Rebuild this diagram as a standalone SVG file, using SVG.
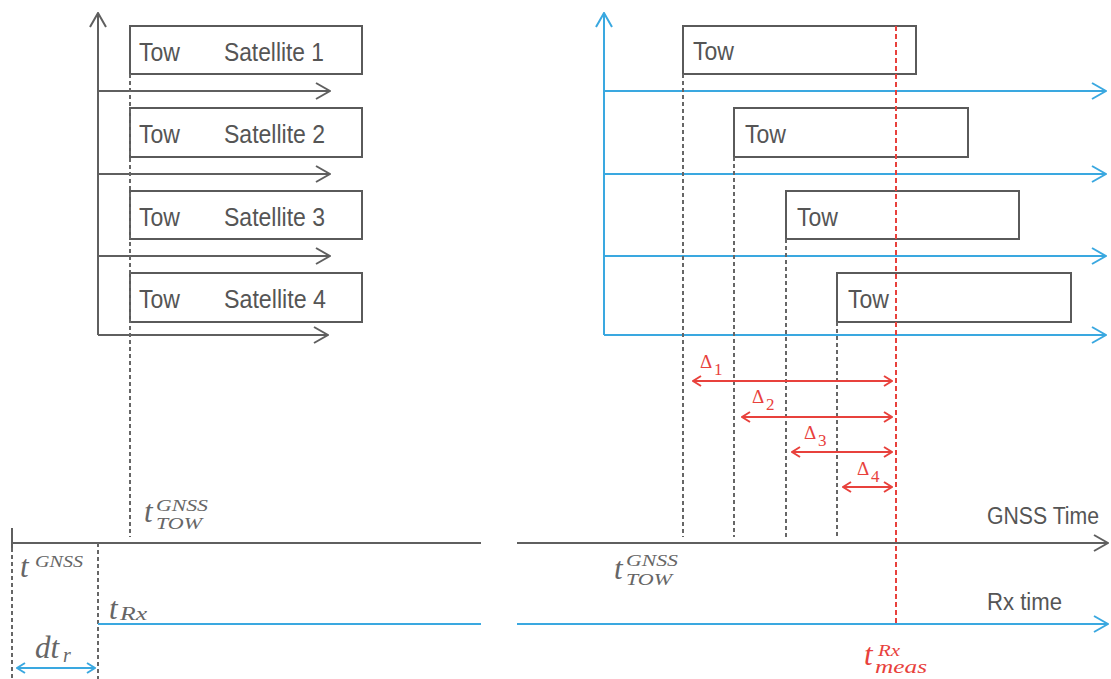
<svg xmlns="http://www.w3.org/2000/svg" width="1111" height="679" viewBox="0 0 1111 679">
<style>
.bg{fill:#fff}
.box{fill:#fff;stroke:#5a5a5a;stroke-width:2}
.g{stroke:#5f5f5f;stroke-width:2;fill:none}
.b{stroke:#3aa8e0;stroke-width:2;fill:none}
.r{stroke:#e8413c;stroke-width:2;fill:none}
.gd{stroke:#666;stroke-width:2;fill:none;stroke-dasharray:4 3}
.rd{stroke:#e8413c;stroke-width:2;fill:none;stroke-dasharray:5 3}
.lbl{font-family:"Liberation Sans",Arial,sans-serif;font-size:26px;fill:#555}
.lbl2{font-family:"Liberation Sans",Arial,sans-serif;font-size:23px;fill:#555}
.m{font-family:"Liberation Serif","DejaVu Serif",serif;font-style:italic;fill:#666}
.mr{font-family:"Liberation Serif","DejaVu Serif",serif;font-style:italic;fill:#e8413c}
.dl{font-family:"Liberation Serif","DejaVu Serif",serif;fill:#e8413c}
</style>
<defs>
<marker id="ag" markerUnits="userSpaceOnUse" viewBox="0 0 16 18" refX="15" refY="9" markerWidth="16" markerHeight="18" orient="auto-start-reverse"><path d="M1,1 L15,9 L1,17" fill="none" stroke="#5f5f5f" stroke-width="2"/></marker>
<marker id="ab" markerUnits="userSpaceOnUse" viewBox="0 0 16 18" refX="15" refY="9" markerWidth="16" markerHeight="18" orient="auto-start-reverse"><path d="M1,1 L15,9 L1,17" fill="none" stroke="#3aa8e0" stroke-width="2"/></marker>
<marker id="abs" markerUnits="userSpaceOnUse" viewBox="0 0 10 12" refX="9" refY="6" markerWidth="10" markerHeight="12" orient="auto-start-reverse"><path d="M1,1 L9,6 L1,11" fill="none" stroke="#3aa8e0" stroke-width="2"/></marker>
<marker id="ar" markerUnits="userSpaceOnUse" viewBox="0 0 10 12" refX="9" refY="6" markerWidth="10" markerHeight="12" orient="auto-start-reverse"><path d="M1,1 L9,6 L1,11" fill="none" stroke="#e8413c" stroke-width="2"/></marker>
</defs>
<rect class="bg" x="0" y="0" width="1111" height="679"/>

<g id="sat1"><rect class="box" x="130" y="26" width="232" height="48"/><text class="lbl" x="139" y="61" textLength="41" lengthAdjust="spacingAndGlyphs">Tow</text><text class="lbl" x="224" y="61" textLength="100" lengthAdjust="spacingAndGlyphs">Satellite 1</text></g>
<g id="sat2"><rect class="box" x="130" y="108" width="232" height="49"/><text class="lbl" x="139" y="143" textLength="41" lengthAdjust="spacingAndGlyphs">Tow</text><text class="lbl" x="224" y="143" textLength="101" lengthAdjust="spacingAndGlyphs">Satellite 2</text></g>
<g id="sat3"><rect class="box" x="130" y="191" width="232" height="48"/><text class="lbl" x="139" y="226" textLength="41" lengthAdjust="spacingAndGlyphs">Tow</text><text class="lbl" x="224" y="226" textLength="101" lengthAdjust="spacingAndGlyphs">Satellite 3</text></g>
<g id="sat4"><rect class="box" x="130" y="273" width="232" height="49"/><text class="lbl" x="139" y="308" textLength="41" lengthAdjust="spacingAndGlyphs">Tow</text><text class="lbl" x="224" y="308" textLength="102" lengthAdjust="spacingAndGlyphs">Satellite 4</text></g>

<g id="tow1"><rect class="box" x="683" y="26" width="233" height="48"/><text class="lbl" x="693" y="60" textLength="41" lengthAdjust="spacingAndGlyphs">Tow</text></g>
<g id="tow2"><rect class="box" x="734" y="108" width="234" height="49"/><text class="lbl" x="745" y="143" textLength="41" lengthAdjust="spacingAndGlyphs">Tow</text></g>
<g id="tow3"><rect class="box" x="786" y="191" width="233" height="48"/><text class="lbl" x="797" y="226" textLength="41" lengthAdjust="spacingAndGlyphs">Tow</text></g>
<g id="tow4"><rect class="box" x="837" y="273" width="234" height="49"/><text class="lbl" x="848" y="308" textLength="41" lengthAdjust="spacingAndGlyphs">Tow</text></g>

<g id="connectors">
<path class="g" d="M98,335 V13" marker-end="url(#ag)"/>
<path class="g" d="M98,91 H330" marker-end="url(#ag)"/>
<path class="g" d="M98,174 H330" marker-end="url(#ag)"/>
<path class="g" d="M98,256 H330" marker-end="url(#ag)"/>
<path class="g" d="M98,335 H328" marker-end="url(#ag)"/>
<path class="gd" d="M130,74 V537"/>
<path class="b" d="M604,335 V13" marker-end="url(#ab)"/>
<path class="b" d="M604,91 H1106" marker-end="url(#ab)"/>
<path class="b" d="M604,174 H1106" marker-end="url(#ab)"/>
<path class="b" d="M604,256 H1106" marker-end="url(#ab)"/>
<path class="b" d="M604,335 H1106" marker-end="url(#ab)"/>
<path class="gd" d="M683,74 V537"/>
<path class="gd" d="M734,157 V537"/>
<path class="gd" d="M786,239 V537"/>
<path class="gd" d="M837,322 V537"/>
<path class="rd" d="M896,26 V624"/>
<path class="r" d="M693,381 H892" marker-start="url(#ar)" marker-end="url(#ar)"/>
<path class="r" d="M742,417 H892" marker-start="url(#ar)" marker-end="url(#ar)"/>
<path class="r" d="M792,452 H892" marker-start="url(#ar)" marker-end="url(#ar)"/>
<path class="r" d="M843,487 H892" marker-start="url(#ar)" marker-end="url(#ar)"/>
<path class="g" d="M12,528 V548"/>
<path class="gd" d="M12,548 V679"/>
<path class="g" d="M12,543 H481"/>
<path class="gd" d="M98,543 V679"/>
<path class="b" d="M98,624 H481"/>
<path class="b" d="M17,668 H95" marker-start="url(#abs)" marker-end="url(#abs)"/>
<path class="g" d="M517,543 H1108" marker-end="url(#ag)"/>
<path class="b" d="M517,624 H1108" marker-end="url(#ab)"/>
</g>

<g id="deltas">
<text class="dl" x="700" y="368" font-size="19">Δ</text><text class="dl" x="714" y="375" font-size="17">1</text>
<text class="dl" x="752" y="403" font-size="19">Δ</text><text class="dl" x="766" y="410" font-size="17">2</text>
<text class="dl" x="804" y="439" font-size="19">Δ</text><text class="dl" x="818" y="446" font-size="17">3</text>
<text class="dl" x="857" y="475" font-size="19">Δ</text><text class="dl" x="871" y="482" font-size="17">4</text>
</g>

<g id="labels">
<text class="m" x="144" y="522" font-size="31">t</text>
<text class="m" x="156" y="511" font-size="16" textLength="52" lengthAdjust="spacingAndGlyphs">GNSS</text>
<text class="m" x="156" y="529" font-size="16" textLength="46" lengthAdjust="spacingAndGlyphs">TOW</text>

<text class="m" x="20" y="577" font-size="31">t</text>
<text class="m" x="35" y="567" font-size="17" textLength="48" lengthAdjust="spacingAndGlyphs">GNSS</text>

<text class="m" x="109" y="619" font-size="31">t</text>
<text class="m" x="120" y="620" font-size="18" textLength="27" lengthAdjust="spacingAndGlyphs">Rx</text>

<text class="m" x="35" y="658" font-size="31">dt</text>
<text class="m" x="63" y="662" font-size="20">r</text>

<text class="m" x="614" y="579" font-size="31">t</text>
<text class="m" x="626" y="566" font-size="16" textLength="52" lengthAdjust="spacingAndGlyphs">GNSS</text>
<text class="m" x="626" y="585" font-size="16" textLength="46" lengthAdjust="spacingAndGlyphs">TOW</text>

<text class="mr" x="864" y="665" font-size="31">t</text>
<text class="mr" x="878" y="656" font-size="16" textLength="22" lengthAdjust="spacingAndGlyphs">Rx</text>
<text class="mr" x="875" y="673" font-size="18" textLength="52" lengthAdjust="spacingAndGlyphs">meas</text>

<text class="lbl2" x="987" y="524" textLength="112" lengthAdjust="spacingAndGlyphs">GNSS Time</text>
<text class="lbl2" x="987" y="610" textLength="75" lengthAdjust="spacingAndGlyphs">Rx time</text>
</g>
</svg>
